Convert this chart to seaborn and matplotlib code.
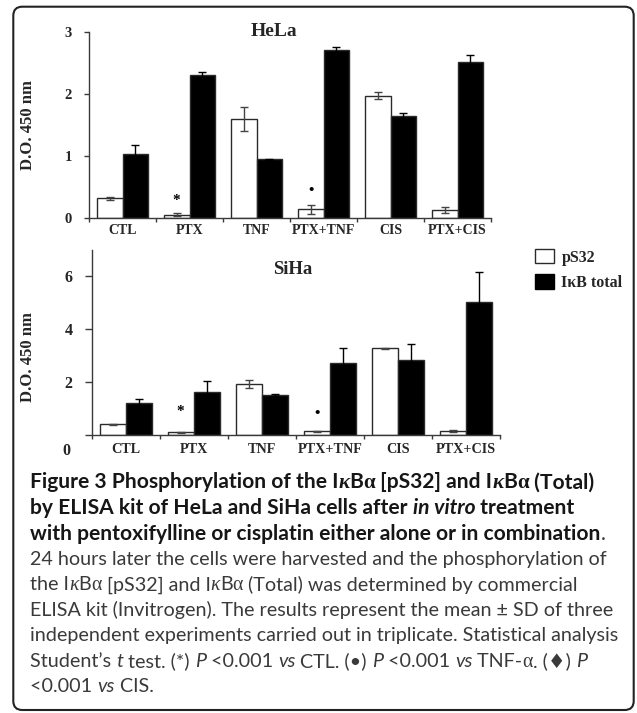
import numpy as np
import pandas as pd
import seaborn as sns
import matplotlib
matplotlib.use("Agg")
import matplotlib.pyplot as plt
from matplotlib.patches import Patch, FancyBboxPatch
from matplotlib.transforms import IdentityTransform

# ---------------- data ----------------
categories = ["CTL", "PTX", "TNF", "PTX+TNF", "CIS", "PTX+CIS"]
series = ["pS32", "IκB total"]

hela_ps32 = [0.32, 0.06, 1.60, 0.145, 1.97, 0.13]
hela_ps32_sd = [0.02, 0.03, 0.19, 0.07, 0.06, 0.05]
hela_total = [1.03, 2.31, 0.95, 2.71, 1.64, 2.52]
hela_total_sd = [0.15, 0.04, 0.01, 0.05, 0.06, 0.11]

siha_ps32 = [0.40, 0.10, 1.92, 0.14, 3.28, 0.15]
siha_ps32_sd = [0.02, 0.02, 0.15, 0.03, 0.02, 0.03]
siha_total = [1.20, 1.64, 1.52, 2.73, 2.84, 5.03]
siha_total_sd = [0.15, 0.40, 0.05, 0.55, 0.62, 1.13]

hela_yticks = [0, 1, 2, 3]
siha_yticks = [0, 2, 4, 6]

# significance marks: (symbol, category index, height)
hela_marks = [("*", 1, 0.29), ("•", 3, 0.44)]
siha_marks = [("*", 1, 0.88), ("•", 3, 0.83)]

# ---------------- style ----------------
sns.set_style("ticks")
plt.rcParams["font.family"] = ["Liberation Serif", "DejaVu Serif"]
plt.rcParams["font.weight"] = "bold"

W, H = 637, 713
fig = plt.figure(figsize=(W / 100, H / 100), dpi=100)

SPINE = "#3a3a3a"


def panel(rect, ps32, ps32_sd, total, total_sd, yticks, ylim, marks,
          tick_fs, xtick_fs, tick_len, xpad):
    ax = fig.add_axes(rect)
    df = pd.DataFrame({
        "treatment": categories * 2,
        "series": [series[0]] * len(categories) + [series[1]] * len(categories),
        "value": list(ps32) + list(total),
    })
    sns.barplot(data=df, x="treatment", y="value", hue="series",
                order=categories, hue_order=series,
                palette=["white", "black"], saturation=1,
                width=0.77, gap=0, errorbar=None, legend=False,
                edgecolor="#2a2a2a", linewidth=1.0, ax=ax)
    for cont, sds, col in zip(ax.containers, [ps32_sd, total_sd],
                              ["#444444", "black"]):
        xs = [b.get_x() + b.get_width() / 2 for b in cont]
        ys = [b.get_height() for b in cont]
        ax.errorbar(xs, ys, yerr=sds, fmt="none", ecolor=col,
                    elinewidth=1.0, capsize=2.6, capthick=1.0, zorder=3)
    whites = ax.containers[0]
    for sym, idx, yv in marks:
        b = whites[idx]
        ax.text(b.get_x() + b.get_width() / 2, yv, sym,
                ha="center", va="center", fontsize=11, color="black")
    ax.set_xlim(-0.5, len(categories) - 0.5)
    ax.set_ylim(*ylim)
    ax.set_yticks(yticks)
    ax.set_xticks(range(len(categories)))
    ax.set_xticklabels(categories, fontsize=xtick_fs, fontweight="bold")
    ax.set_xticks(np.arange(-0.5, len(categories), 1.0), minor=True)
    ax.tick_params(axis="x", which="major", length=0, pad=xpad)
    ax.tick_params(axis="x", which="minor", length=3, width=1, color=SPINE,
                   direction="out")
    ax.tick_params(axis="y", length=tick_len, width=1, color=SPINE, pad=9,
                   labelsize=tick_fs)
    for lab in ax.get_yticklabels():
        lab.set_fontweight("bold")
    for s in ["top", "right"]:
        ax.spines[s].set_visible(False)
    for s in ["left", "bottom"]:
        ax.spines[s].set_color(SPINE)
        ax.spines[s].set_linewidth(1.0)
    ax.set_xlabel("")
    ax.set_ylabel("D.O. 450 nm", fontsize=12, fontweight="bold")
    ax.patch.set_alpha(0)
    return ax


# HeLa panel
ax1 = panel([89 / W, 1 - 218.3 / H, 402 / W, 186.6 / H],
            hela_ps32, hela_ps32_sd, hela_total, hela_total_sd,
            hela_yticks, (0, 3), hela_marks, 10.5, 10, 3.3, 4)
ax1.yaxis.set_label_coords(-0.132, 0.5)

# SiHa panel
ax2 = panel([91.7 / W, 1 - 435 / H, 408 / W, 185 / H],
            siha_ps32, siha_ps32_sd, siha_total, siha_total_sd,
            siha_yticks, (0, 7), siha_marks, 11.5, 10.2, 4.8, 6)
ax2.yaxis.set_label_coords(-0.1365, 0.423)
ax2.set_yticklabels([""] + [str(t) for t in siha_yticks[1:]])
ax2.text(-0.061, -0.085, "0", transform=ax2.transAxes, ha="center",
         va="center", fontsize=11.5, fontweight="bold")

# titles
fig.text(274 / W, 1 - 32 / H, "HeLa", ha="center", va="center",
         fontsize=14, fontweight="bold")
fig.text(292.7 / W, 1 - 270 / H, "SiHa", ha="center", va="center",
         fontsize=13.5, fontweight="bold")

# legend
handles = [Patch(facecolor="white", edgecolor="#2a2a2a", linewidth=1.0,
                 label=series[0]),
           Patch(facecolor="black", edgecolor="black", linewidth=1.0,
                 label=series[1])]
fig.legend(handles=handles, loc="upper left",
           bbox_to_anchor=(535 / W, 1 - 249 / H), frameon=False,
           prop={"family": "Liberation Serif", "weight": "bold", "size": 11.5},
           handlelength=1.2, handleheight=1.0, handletextpad=0.45,
           labelspacing=0.55, borderpad=0, borderaxespad=0)

# rounded border
box = FancyBboxPatch((13.3, 3), 633.7 - 13.3, (H - 6.7) - 3,
                     boxstyle="round,pad=0,rounding_size=9",
                     transform=IdentityTransform(), fill=False,
                     edgecolor="#222222", linewidth=1.5)
fig.patches.append(box)

# ---------------- caption ----------------
renderer = fig.canvas.get_renderer()
CAP_FAM = ["Lato", "DejaVu Sans"]
GREEK_FAM = ["Liberation Serif", "DejaVu Serif"]
BOLD_COL = "#161616"
REG_COL = "#3a3a3a"


def _kw(style):
    kw = {"family": CAP_FAM, "weight": "normal", "style": "normal",
          "color": REG_COL}
    if "b" in style:
        kw["weight"] = "bold"
        kw["color"] = BOLD_COL
    if "i" in style:
        kw["style"] = "italic"
    if "g" in style:
        kw["family"] = GREEK_FAM
        kw["weight"] = "normal"
    if "G" in style:
        kw["family"] = GREEK_FAM
        kw["weight"] = "bold"
        kw["color"] = BOLD_COL
    return kw


def measure(text, style, size):
    kw = _kw(style)
    t1 = fig.text(0, 0, "|" + text + "|", fontsize=size, **kw)
    t2 = fig.text(0, 0, "||", fontsize=size, **kw)
    w = t1.get_window_extent(renderer).width - t2.get_window_extent(renderer).width
    t1.remove()
    t2.remove()
    return w


def line_width(segs, size):
    return sum(measure(t, s, size) for t, s in segs)


def draw_line(segs, x0, base_from_top, size):
    x = x0
    for t, s in segs:
        kw = _kw(s)
        fig.text(x / W, 1 - base_from_top / H, t, fontsize=size,
                 ha="left", va="baseline", **kw)
        x += measure(t, s, size)


cap_lines = [
    [("Figure 3 Phosphorylation of the I", "b"), ("κ", "Gi"), ("B", "b"),
     ("α", "G"), (" [pS32] and I", "b"), ("κ", "Gi"), ("B", "b"),
     ("α", "G"), (" (Total)", "b")],
    [("by ELISA kit of HeLa and SiHa cells after ", "b"), ("in vitro", "bi"),
     (" treatment", "b")],
    [("with pentoxifylline or cisplatin either alone or in combination", "b"),
     (".", "")],
    [("24 hours later the cells were harvested and the phosphorylation of", "")],
    [("the I", ""), ("κ", "gi"), ("B", ""), ("α", "g"), (" [pS32] and I", ""),
     ("κ", "gi"), ("B", ""), ("α", "g"),
     (" (Total) was determined by commercial", "")],
    [("ELISA kit (Invitrogen). The results represent the mean ± SD of three", "")],
    [("independent experiments carried out in triplicate. Statistical analysis", "")],
    [("Student’s ", ""), ("t", "i"), (" test. (*) ", ""), ("P", "i"),
     (" <0.001 ", ""), ("vs", "i"), (" CTL. (•) ", ""), ("P", "i"),
     (" <0.001 ", ""), ("vs", "i"), (" TNF-", ""), ("α", "g"), (". (♦) ", ""),
     ("P", "i")],
    [("<0.001 ", ""), ("vs", "i"), (" CIS.", "")],
]

# target line widths (px) used to size the caption fonts
bold_targets = {0: 589, 1: 544, 2: 595}
reg_targets = {3: 580, 4: 559, 5: 580, 6: 582}
bold_size = min(10 * w / line_width(cap_lines[i], 10)
                for i, w in bold_targets.items())
reg_size = float(np.mean([10 * w / line_width(cap_lines[i], 10)
                          for i, w in reg_targets.items()]))

for i, segs in enumerate(cap_lines):
    size = bold_size if i < 3 else reg_size
    draw_line(segs, 30, 488.5 + 25.5 * i, size)

fig.savefig("out.png", dpi=100)
